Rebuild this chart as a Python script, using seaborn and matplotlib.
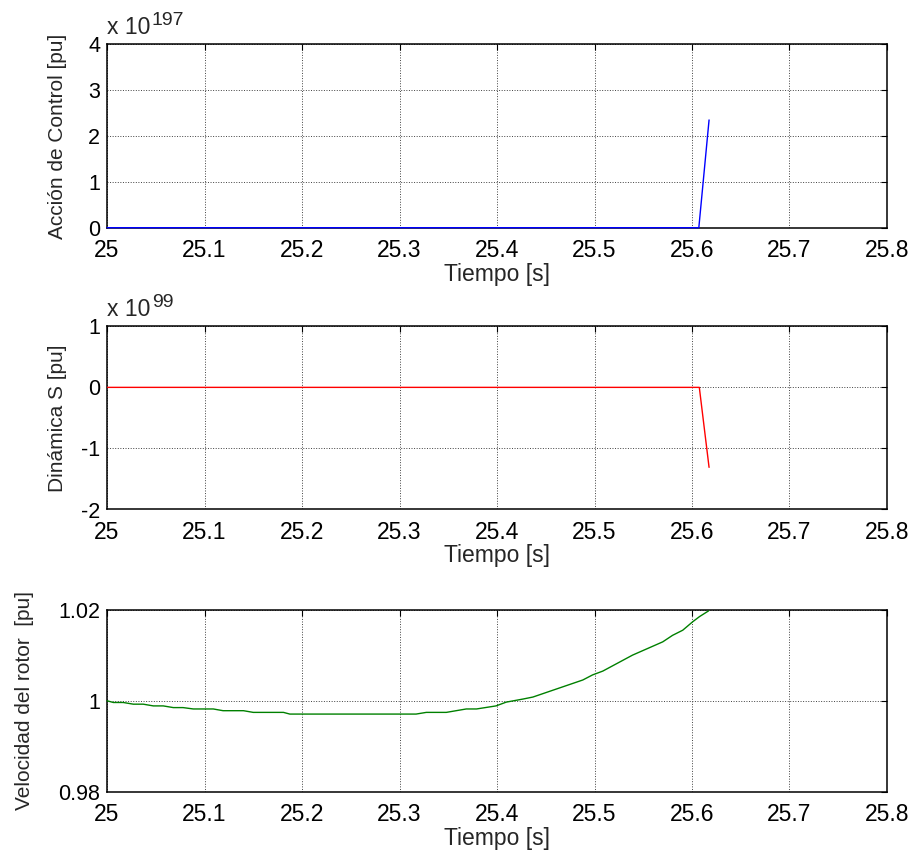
import numpy as np
import pandas as pd
import matplotlib
matplotlib.use("Agg")
import matplotlib.pyplot as plt
import seaborn as sns

# ---- data ---------------------------------------------------------------
x_ticks = [25.0, 25.1, 25.2, 25.3, 25.4, 25.5, 25.6, 25.7, 25.8]
x_tick_labels = ["25", "25.1", "25.2", "25.3", "25.4", "25.5", "25.6", "25.7", "25.8"]

# control action, in units of 1e197 pu
u_time = [25.0, 25.607, 25.6175]
u_value = [0.0, 0.0, 2.35]
u_exponent = "197"
u_ticks = [0, 1, 2, 3, 4]
u_tick_labels = ["0", "1", "2", "3", "4"]

# sliding surface S, in units of 1e99 pu
s_time = [25.0, 25.6075, 25.6175]
s_value = [0.0, 0.0, -1.31]
s_exponent = "99"
s_ticks = [-2, -1, 0, 1]
s_tick_labels = ["-2", "-1", "0", "1"]

# rotor speed [pu]
w_time = [25.000, 25.0065, 25.0167, 25.027, 25.0372, 25.0475, 25.0577, 25.068,
          25.078, 25.0885, 25.109, 25.119, 25.140, 25.150, 25.181, 25.1875,
          25.317, 25.3275, 25.348, 25.3685, 25.379, 25.399, 25.4095, 25.4266,
          25.4368, 25.488, 25.498, 25.5085, 25.539, 25.570, 25.580, 25.5905,
          25.6007, 25.6076, 25.617]
w_value = [1.0000, 0.99962, 0.99962, 0.99925, 0.99925, 0.99887, 0.99887, 0.99850,
           0.99850, 0.99820, 0.99820, 0.99782, 0.99782, 0.99745, 0.99745, 0.99708,
           0.99708, 0.99745, 0.99745, 0.99820, 0.99820, 0.99887, 0.99970, 1.00037,
           1.00081, 1.00455, 1.00566, 1.00650, 1.01000, 1.01291, 1.01433, 1.01546,
           1.01731, 1.01843, 1.01970]
w_ticks = [0.98, 1.0, 1.02]
w_tick_labels = ["0.98", "1", "1.02"]

u_df = pd.DataFrame({"t": u_time, "u": u_value})
s_df = pd.DataFrame({"t": s_time, "s": s_value})
w_df = pd.DataFrame({"t": w_time, "w": w_value})

# ---- style --------------------------------------------------------------
sns.set_style("white")
plt.rcParams["font.family"] = ["Liberation Sans", "DejaVu Sans"]
FS = 16.5       # x tick labels, x labels, scale factors
FS_YT = 15.5    # y tick labels
FS_Y = 15       # y labels

fig = plt.figure(figsize=(9.17, 8.5), dpi=100)
W, H = 917.0, 850.0
left, right = 107.0, 887.0

def make_axes(top, bottom):
    return fig.add_axes([left / W, 1 - bottom / H, (right - left) / W, (bottom - top) / H])

ax1 = make_axes(44.3, 227.7)
ax2 = make_axes(326.3, 509.5)
ax3 = make_axes(609.5, 792.0)

sns.lineplot(data=u_df, x="t", y="u", ax=ax1, color="#0000ff", linewidth=1.0,
             estimator=None, sort=False, zorder=3, clip_on=False)
sns.lineplot(data=s_df, x="t", y="s", ax=ax2, color="#ff0000", linewidth=1.0,
             estimator=None, sort=False, zorder=3)
sns.lineplot(data=w_df, x="t", y="w", ax=ax3, color="#008000", linewidth=1.0,
             estimator=None, sort=False, zorder=3, clip_on=False)

specs = [
    (ax1, (0, 4), u_ticks, u_tick_labels, "Acción de Control [pu]", -0.051),
    (ax2, (-2, 1), s_ticks, s_tick_labels, "Dinámica S [pu]", -0.051),
    (ax3, (0.98, 1.02), w_ticks, w_tick_labels, "Velocidad del rotor  [pu]", -0.093),
]
for ax, ylim, yt, ytl, ylab, ylab_x in specs:
    ax.set_xlim(25, 25.8)
    ax.set_xticks(x_ticks)
    ax.set_xticklabels(x_tick_labels)
    ax.set_ylim(*ylim)
    ax.set_yticks(yt)
    ax.set_yticklabels(ytl)
    ax.grid(True, linestyle=":", color="0.25", linewidth=0.7)
    ax.set_axisbelow(True)
    ax.tick_params(direction="in", top=True, right=True, length=4, width=0.8,
                   colors="black")
    ax.tick_params(axis="x", pad=8, labelsize=FS)
    ax.tick_params(axis="y", pad=5, labelsize=FS_YT)
    for sp in ax.spines.values():
        sp.set_visible(True)
        sp.set_color("black")
        sp.set_linewidth(1.1)
    ax.set_xlabel("Tiempo [s]", fontsize=FS)
    ax.set_ylabel(ylab, fontsize=FS_Y)
    ax.xaxis.set_label_coords(0.5, -0.19)
    ax.yaxis.set_label_coords(ylab_x, 0.5)

# scale factor labels above the first two panels
for ax, expo in [(ax1, u_exponent), (ax2, s_exponent)]:
    box_h = ax.get_position().height * H
    base = ax.text(0.0, 1 + 10.0 / box_h, "x 10", transform=ax.transAxes,
                   fontsize=FS, ha="left", va="baseline")
    ax.annotate(expo, xy=(1, 0), xycoords=base, xytext=(1, 10),
                textcoords="offset points", fontsize=FS - 2.5,
                ha="left", va="baseline")

fig.savefig("out.png", dpi=100)
